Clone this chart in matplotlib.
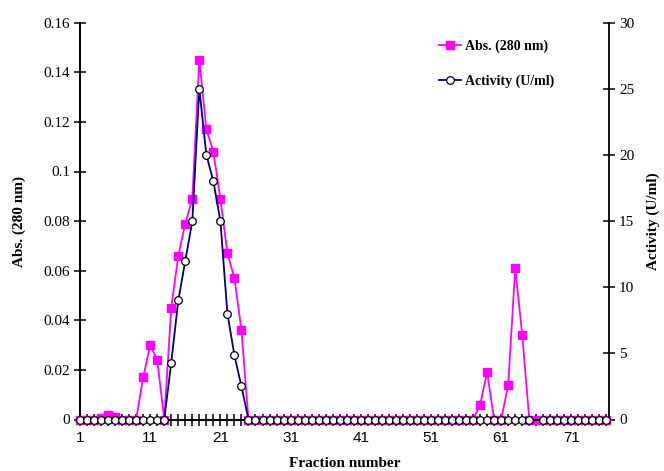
import numpy as np
import matplotlib
matplotlib.use("Agg")
import matplotlib.pyplot as plt
from matplotlib.ticker import FixedLocator, MultipleLocator

fractions = list(range(1, 77))

# Absorbance at 280 nm (left axis); non-listed fractions are 0
abs_nonzero = {4: 0.0005, 5: 0.002, 6: 0.001,
               10: 0.017, 11: 0.030, 12: 0.024,
               14: 0.045, 15: 0.066, 16: 0.079, 17: 0.089, 18: 0.145,
               19: 0.117, 20: 0.108, 21: 0.089, 22: 0.067, 23: 0.057, 24: 0.036,
               58: 0.006, 59: 0.019, 62: 0.014, 63: 0.061, 64: 0.034}
abs280 = [abs_nonzero.get(f, 0.0) for f in fractions]

# Activity (U/ml) (right axis); non-listed fractions are 0, fraction 66 missing
act_nonzero = {14: 4.3, 15: 9.0, 16: 12.0, 17: 15.0, 18: 25.0, 19: 20.0,
               20: 18.0, 21: 15.0, 22: 8.0, 23: 4.85, 24: 2.5}
activity = [np.nan if f == 66 else act_nonzero.get(f, 0.0) for f in fractions]

xtick_labels = [1, 11, 21, 31, 41, 51, 61, 71]
abs_ticks = [0, 0.02, 0.04, 0.06, 0.08, 0.1, 0.12, 0.14, 0.16]
abs_tick_labels = ["0", "0.02", "0.04", "0.06", "0.08", "0.1", "0.12", "0.14", "0.16"]

serif = ["Liberation Serif", "DejaVu Serif"]
sans = ["Liberation Sans", "DejaVu Sans"]

fig = plt.figure(figsize=(6.64, 4.71), dpi=100)
ax1 = fig.add_axes([80 / 664, 1 - 419.5 / 471, (609.3 - 80) / 664, (419.5 - 22.7) / 471])
ax2 = ax1.twinx()

l1, = ax1.plot(fractions, abs280, color="#FF00FF", lw=1.3, marker="s", ms=5.2,
               mfc="#FF00FF", mec="#FF00FF", label="Abs. (280 nm)", clip_on=False, zorder=3)
l2, = ax2.plot(fractions, activity, color="#000080", lw=1.3, marker="o", ms=5.5,
               mfc="white", mec="black", mew=0.9, label="Activity (U/ml)", clip_on=False, zorder=3)

ax1.set_xlim(1, 76.4)
ax1.set_ylim(0, 0.16)
ax2.set_ylim(0, 30)

ax1.set_yticks(abs_ticks)
ax1.set_yticklabels(abs_tick_labels)
ax2.yaxis.set_major_locator(MultipleLocator(5))

ax1.xaxis.set_major_locator(FixedLocator(xtick_labels))
ax1.xaxis.set_minor_locator(MultipleLocator(1))
ax1.set_xticklabels([str(v) for v in xtick_labels], family=sans, fontsize=11)

for ax in (ax1, ax2):
    ax.spines["top"].set_visible(False)
    for s in ax.spines.values():
        s.set_linewidth(1.3)
ax1.spines["right"].set_visible(False)

ax1.tick_params(axis="x", which="both", direction="inout", length=8, width=1.1, pad=4)
ax1.tick_params(axis="y", direction="inout", length=8, width=1.1, pad=3)
ax2.tick_params(axis="y", direction="inout", length=8, width=1.1, pad=3)

for lab in ax1.get_yticklabels() + ax2.get_yticklabels():
    lab.set_family(serif)
    lab.set_fontsize(11)

ax1.set_xlabel("Fraction number", family=serif, fontsize=11, fontweight="bold", labelpad=9)
ax1.set_ylabel("Abs. (280 nm)", family=serif, fontsize=11, fontweight="bold", labelpad=13)
ax2.set_ylabel("Activity (U/ml)", family=serif, fontsize=11, fontweight="bold", labelpad=9)

leg = ax2.legend(handles=[l1, l2], loc="upper left", bbox_to_anchor=(0.678, 0.957),
                 frameon=False, borderpad=0, borderaxespad=0, handlelength=1.6,
                 handletextpad=0.25, labelspacing=1.55,
                 prop={"family": serif, "weight": "bold", "size": 10})

fig.savefig("out.png", dpi=100)
